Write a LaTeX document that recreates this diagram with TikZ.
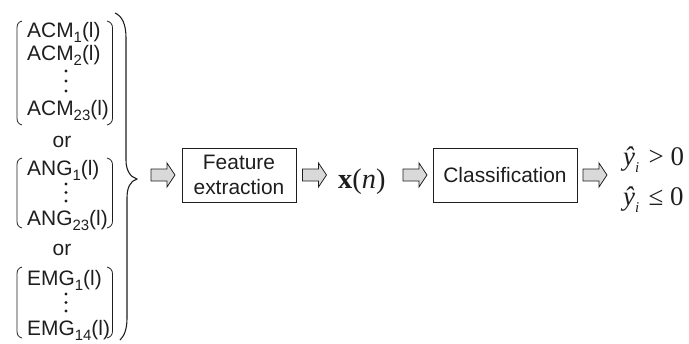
\documentclass[tikz,border=0pt]{standalone}
\usepackage{fontspec}
\setmainfont{Liberation Serif}
\setsansfont{Liberation Sans}
\definecolor{ink}{HTML}{1E1E1E}
\definecolor{arrfill}{HTML}{D9D9D9}
\newcommand{\lsub}[1]{\raisebox{-0.28em}{\fontsize{15}{15}\selectfont #1}}
\begin{document}
\begin{tikzpicture}[x=1bp,y=-1bp,
  lbl/.style={font=\sffamily\fontsize{21}{24}\selectfont, text=ink, inner sep=0pt, anchor=base west},
  orlbl/.style={font=\sffamily\fontsize{21}{24}\selectfont, text=ink, inner sep=0pt, anchor=base},
  blk/.style={draw=ink, line width=0.9bp, minimum height=54bp, inner sep=0pt,
    font=\sffamily\fontsize{21}{24.5}\selectfont, text=ink, align=center},
  barr/.style={draw=ink, fill=arrfill, line width=0.8bp, line join=miter},
  brk/.style={draw=ink, line width=0.8bp},
  brc/.style={draw=ink, line width=1.1bp},
  dot/.style={fill=ink, circle, inner sep=0pt, minimum size=3.4bp},
  mth/.style={font=\rmfamily\fontsize{28.5}{30}\selectfont, text=ink, inner sep=0pt, anchor=base west},
  blockarrow/.pic={\draw[barr] (0,-6) -- (16,-6) -- (16,-12) -- (24,0) -- (16,12) -- (16,6) -- (0,6) -- cycle;}
]
\useasboundingbox (0,0) rectangle (689,343);

% ACM block
\node[lbl] (acm1) at (27,37) {ACM\lsub{1}(l)};
\node[lbl] (acm2) at (27,60) {ACM\lsub{2}(l)};
\node[dot] (acmd1) at (66,71) {};
\node[dot] (acmd2) at (66,81) {};
\node[dot] (acmd3) at (66,91) {};
\node[lbl] (acm23) at (27,115) {ACM\lsub{23}(l)};
\node[orlbl] (or1) at (62,147) {or};
% ANG block
\node[lbl] (ang1) at (27,175) {ANG\lsub{1}(l)};
\node[dot] (angd1) at (66,184) {};
\node[dot] (angd2) at (66,192.5) {};
\node[dot] (angd3) at (66,201) {};
\node[lbl] (ang23) at (27,225) {ANG\lsub{23}(l)};
\node[orlbl] (or2) at (62,255) {or};
% EMG block
\node[lbl] (emg1) at (27,285) {EMG\lsub{1}(l)};
\node[dot] (emgd1) at (66,294) {};
\node[dot] (emgd2) at (66,302.5) {};
\node[dot] (emgd3) at (66,311) {};
\node[lbl] (emg14) at (27,335) {EMG\lsub{14}(l)};

% brackets
\foreach \t/\b in {21/125, 158/228, 267/338}{
  \draw[brk] (22,\t) .. controls (18.5,\t+1) and (17,\t+3) .. (17,\t+7) -- (17,\b-7)
     .. controls (17,\b-3) and (18.5,\b-1) .. (22,\b);
  \draw[brk] (107,\t) .. controls (110.5,\t+1) and (112.5,\t+3) .. (112.5,\t+7) -- (112.5,\b-7)
     .. controls (112.5,\b-3) and (110.5,\b-1) .. (107,\b);
}
% big brace
\draw[brc] (115,13) .. controls (122,16) and (126,24) .. (126,38) -- (126,160)
   .. controls (126,170) and (130,177) .. (137,179)
   .. controls (130,181) and (127,188) .. (127,198) -- (127,318)
   .. controls (127,330) and (124,336) .. (120,340);

% pipeline
\pic (a1) at (151,175) {blockarrow};
\node[blk, minimum width=114bp] (fe) at (239,175) {Feature\\extraction};
\pic (a2) at (302.5,175) {blockarrow};
\node[mth] (xn) at (338,188) {\textbf{x}(\textit{n})};
\pic (a3) at (403,175) {blockarrow};
\node[blk, minimum width=144bp] (cls) at (505,175) {Classification};
\pic (a4) at (583,175) {blockarrow};
\node[mth, font=\rmfamily\fontsize{27}{30}\selectfont] (yp) at (623,165) {\textit{ŷ}\lsub{\textit{i}}\hspace{0.35em}>\hspace{0.25em}0};
\node[mth, font=\rmfamily\fontsize{27}{30}\selectfont] (yn) at (623,205) {\textit{ŷ}\lsub{\textit{i}}\hspace{0.35em}≤\hspace{0.25em}0};
\end{tikzpicture}
\end{document}
